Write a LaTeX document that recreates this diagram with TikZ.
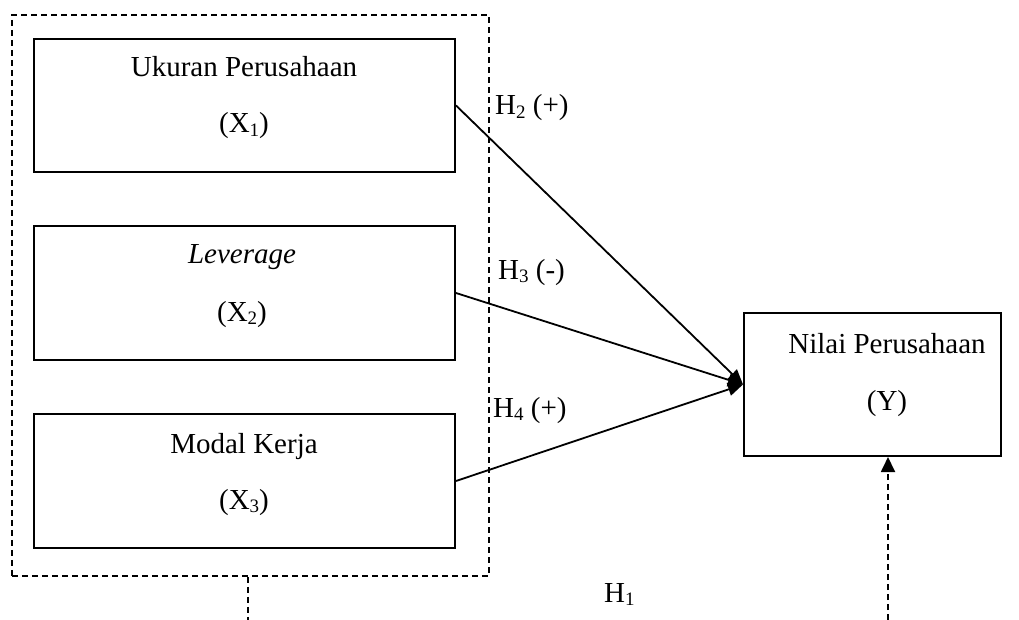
\documentclass[tikz,border=0pt]{standalone}
\usepackage{fontspec}
\setmainfont{Liberation Serif}
\usetikzlibrary{arrows.meta,calc}
\newcommand\mysub[1]{\raisebox{-0.12em}{\fontsize{19}{20}\selectfont #1}}
\begin{document}
\begin{tikzpicture}[x=1pt,y=-1pt,
  every node/.append style={font=\fontsize{29}{35}\selectfont},
  varbox/.style={draw, line width=2pt, rectangle, inner sep=0pt, anchor=north west},
  lbl/.style={anchor=base, inner sep=0pt},
  hlbl/.style={anchor=base west, inner sep=0pt},
  dsh/.style={line width=1.8pt, dash pattern=on 6pt off 4pt},
  arr/.style={line width=1.8pt, -{Triangle[length=15pt,width=13pt]}}]
\useasboundingbox (0,0) rectangle (1019,620);
% group box
\node[dsh, draw, rectangle, inner sep=0pt, anchor=north west,
      minimum width=477pt, minimum height=561pt] (grp) at (11,14) {};
% variable boxes
\node[varbox, minimum width=421pt, minimum height=133pt] (b1) at (33,38) {};
\node[varbox, minimum width=421pt, minimum height=134pt] (b2) at (33,225) {};
\node[varbox, minimum width=421pt, minimum height=134pt] (b3) at (33,413) {};
\node[varbox, minimum width=257pt, minimum height=143pt] (y) at (743,312) {};
% texts
\node[lbl] (t1a) at (244,77) {Ukuran Perusahaan};
\node[lbl] (t1b) at (244,133) {(X\mysub{1})};
\node[lbl] (t2a) at (242,263) {\itshape Leverage};
\node[lbl] (t2b) at (242,321) {(X\mysub{2})};
\node[lbl] (t3a) at (244,453) {Modal Kerja};
\node[lbl] (t3b) at (244,509) {(X\mysub{3})};
\node[lbl] (tya) at (887,353) {Nilai Perusahaan};
\node[lbl] (tyb) at (887,410) {(Y)};
% hypothesis labels
\node[hlbl] (h2) at (495,115) {H\mysub{2} (+)};
\node[hlbl] (h3) at (498,279) {H\mysub{3} (-)};
\node[hlbl] (h4) at (493,417) {H\mysub{4} (+)};
\node[hlbl] (h1) at (604,602) {H\mysub{1}};
% arrows
\draw[arr] (b1.east) -- (y.west);
\draw[arr] (b2.east) -- (y.west);
\draw[arr] (b3.east) -- (y.west);
% dashed links
\coordinate (e1) at (248,620);
\coordinate (e2) at (888,620);
\draw[dsh] (grp.south -| e1) -- (e1);
\draw[dsh, -{Triangle[length=15pt,width=14pt]}] (e2) -- (y.south -| e2);
\end{tikzpicture}
\end{document}
